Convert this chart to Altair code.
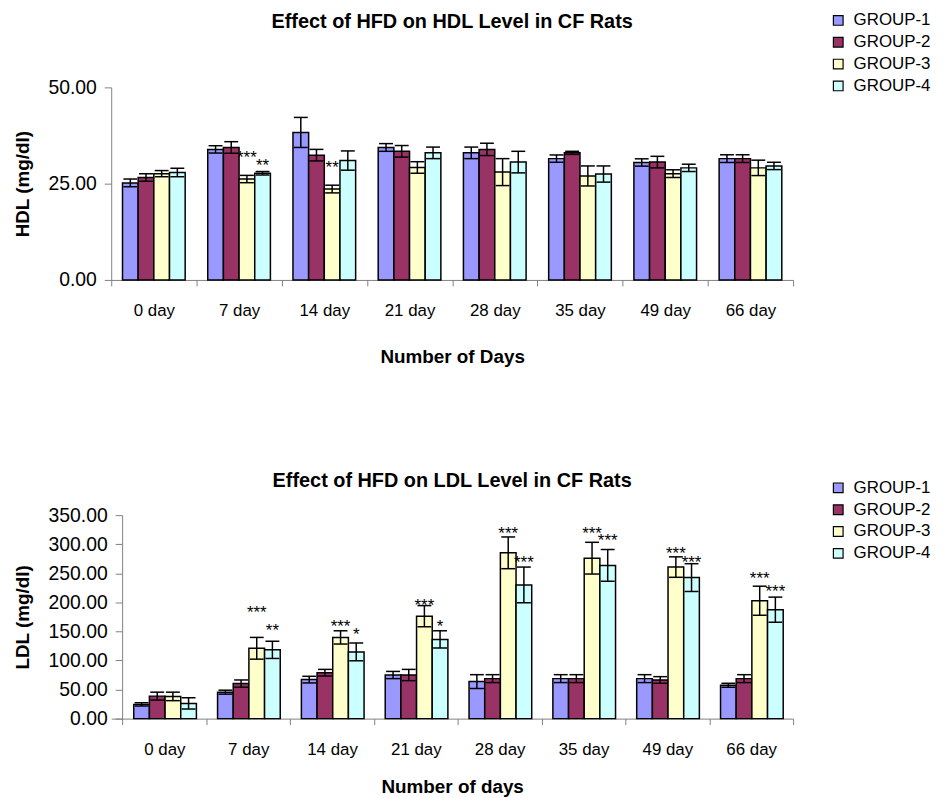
import altair as alt
import pandas as pd

days = ["0 day", "7 day", "14 day", "21 day", "28 day", "35 day", "49 day", "66 day"]
groups = ["GROUP-1", "GROUP-2", "GROUP-3", "GROUP-4"]
colors = ["#9999FF", "#993366", "#FFFFCC", "#CCFFFF"]

# HDL (mg/dl) means and SE
hdl_g1 = [25.2, 33.9, 38.3, 34.4, 33.0, 31.5, 30.5, 31.5]
hdl_g2 = [26.6, 34.4, 32.4, 33.4, 33.9, 33.0, 30.6, 31.5]
hdl_g3 = [27.6, 26.2, 23.6, 29.2, 28.0, 27.0, 27.6, 29.1]
hdl_g4 = [27.9, 27.7, 31.0, 33.0, 30.6, 27.5, 29.1, 29.6]
hdl_se1 = [1.0, 0.95, 3.9, 1.0, 1.5, 0.95, 0.95, 1.0]
hdl_se2 = [1.0, 1.5, 1.5, 1.5, 1.6, 0.4, 1.5, 1.0]
hdl_se3 = [0.8, 0.95, 1.0, 1.5, 3.5, 2.6, 1.0, 2.0]
hdl_se4 = [1.1, 0.45, 2.5, 1.5, 2.8, 2.1, 0.95, 0.95]

# LDL (mg/dl) means and SE
ldl_g1 = [24.5, 45.5, 67.1, 75.0, 63.7, 68.8, 68.8, 57.4]
ldl_g2 = [38.7, 60.3, 79.0, 75.0, 68.8, 68.8, 66.5, 68.8]
ldl_g3 = [38.2, 121.0, 139.7, 176.2, 285.2, 276.0, 260.7, 202.8]
ldl_g4 = [26.2, 118.3, 114.8, 136.3, 230.0, 263.6, 242.6, 187.4]
ldl_se1 = [2.8, 3.4, 5.7, 6.2, 11.9, 6.8, 6.8, 3.4]
ldl_se2 = [6.8, 6.2, 5.7, 9.7, 6.8, 6.8, 5.7, 6.8]
ldl_se3 = [7.3, 18.7, 11.4, 18.2, 27.3, 27.3, 17.6, 25.0]
ldl_se4 = [9.7, 14.8, 15.3, 14.8, 30.7, 27.3, 23.9, 21.6]

# significance marks: day, group, label, level (data units)
hdl_star_day = ["7 day", "7 day", "14 day"]
hdl_star_group = ["GROUP-3", "GROUP-4", "GROUP-3"]
hdl_star_label = ["***", "**", "**"]
hdl_star_level = [32.1, 30.0, 29.6]

ldl_star_day = ["7 day", "7 day", "14 day", "14 day", "21 day", "21 day",
                "28 day", "28 day", "35 day", "35 day", "49 day", "49 day",
                "66 day", "66 day"]
ldl_star_group = ["GROUP-3", "GROUP-4"] * 7
ldl_star_label = ["***", "**", "***", "*", "***", "*", "***", "***",
                  "***", "***", "***", "***", "***", "***"]
ldl_star_level = [185.2, 154.6, 160.9, 147.2, 196.6, 160.9, 321.5, 271.6,
                  321.5, 309.1, 286.3, 271.6, 243.2, 221.5]

FONT = "Liberation Sans"


def make_df(means, ses):
    rows = []
    for g, m_list, s_list in zip(groups, means, ses):
        for d, m, s in zip(days, m_list, s_list):
            rows.append({"day": d, "group": g, "mean": m, "lo": m - s, "hi": m + s})
    return pd.DataFrame(rows)


def panel(df, sdf, title, title_offset, ytitle, ymax, ystep, xtitle, x_title_pad,
          width, height, legend_x, legend_y, x_pad_outer, y_offset):
    x = alt.X("day:N", sort=days,
              scale=alt.Scale(domain=days, paddingInner=0, paddingOuter=x_pad_outer,
                              align=1),
              axis=alt.Axis(title=xtitle, labelAngle=0, tickBand="extent",
                            tickSize=6, labelPadding=17, titlePadding=x_title_pad,
                            domainColor="#808080", tickColor="#808080",
                            labelFontSize=17, titleFontSize=19, titleFontWeight="bold",
                            labelFont=FONT, titleFont=FONT, labelColor="black",
                            titleColor="black"))
    xo = alt.XOffset("group:N", sort=groups,
                     scale=alt.Scale(domain=groups, paddingOuter=0.72, paddingInner=0))
    yscale = alt.Scale(domain=[0, ymax], nice=False)
    yaxis = alt.Axis(title=ytitle, values=list(range(0, ymax + 1, ystep)), format=".2f",
                     grid=False, tickSize=7, labelPadding=8, titlePadding=16,
                     offset=y_offset, labelOverlap=False,
                     domainColor="#808080", tickColor="#808080",
                     labelFontSize=19.5, titleFontSize=19, titleFontWeight="bold",
                     labelFont=FONT, titleFont=FONT, labelColor="black", titleColor="black")
    color = alt.Color("group:N", sort=groups,
                      scale=alt.Scale(domain=groups, range=colors),
                      legend=alt.Legend(title=None, orient="none", legendX=legend_x,
                                        legendY=legend_y, symbolType="square",
                                        symbolSize=95, symbolStrokeColor="black",
                                        symbolStrokeWidth=1.2, labelFontSize=17,
                                        labelFont=FONT, labelColor="black",
                                        rowPadding=4, labelOffset=7, padding=0))
    base = alt.Chart(df)
    bars = base.mark_bar(stroke="black", strokeWidth=1.5).encode(
        x=x, xOffset=xo, y=alt.Y("mean:Q", scale=yscale, axis=yaxis), color=color)
    rules = base.mark_rule(color="black", strokeWidth=1.5).encode(
        x=x, xOffset=xo, y=alt.Y("lo:Q", scale=yscale, axis=yaxis), y2="hi:Q")
    cap_lo = base.mark_tick(color="black", thickness=1.5, size=14, opacity=1).encode(
        x=x, xOffset=xo, y=alt.Y("lo:Q", scale=yscale, axis=yaxis))
    cap_hi = base.mark_tick(color="black", thickness=1.5, size=14, opacity=1).encode(
        x=x, xOffset=xo, y=alt.Y("hi:Q", scale=yscale, axis=yaxis))
    stars = alt.Chart(sdf).mark_text(fontSize=17, font=FONT, baseline="alphabetic",
                                     dy=7, color="black").encode(
        x=x, xOffset=xo, y=alt.Y("level:Q", scale=yscale, axis=yaxis), text="label:N")
    return alt.layer(bars, rules, cap_lo, cap_hi, stars).properties(
        width=width, height=height,
        title=alt.TitleParams(title, font=FONT, fontSize=20, fontWeight="bold",
                              color="black", anchor="middle", frame="group",
                              offset=title_offset))


hdl_df = make_df([hdl_g1, hdl_g2, hdl_g3, hdl_g4], [hdl_se1, hdl_se2, hdl_se3, hdl_se4])
ldl_df = make_df([ldl_g1, ldl_g2, ldl_g3, ldl_g4], [ldl_se1, ldl_se2, ldl_se3, ldl_se4])
hdl_stars = pd.DataFrame({"day": hdl_star_day, "group": hdl_star_group,
                          "label": hdl_star_label, "level": hdl_star_level})
ldl_stars = pd.DataFrame({"day": ldl_star_day, "group": ldl_star_group,
                          "label": ldl_star_label, "level": ldl_star_level})

top = panel(hdl_df, hdl_stars, "Effect of HFD on HDL Level in CF Rats", -20,
            "HDL (mg/dl)", 50, 25, "Number of Days", 29, 687, 194, 724, -76, 0, 0)
bottom = panel(ldl_df, ldl_stars, "Effect of HFD on LDL Level in CF Rats", -12,
               "LDL (mg/dl)", 350, 50, "Number of days", 20, 687, 205, 724, -36,
               0.067, -11)

chart = alt.vconcat(top, bottom, spacing=106).resolve_scale(
    color="independent").resolve_legend(color="independent").properties(
    padding={"left": 5, "top": 1, "right": 5, "bottom": 0},
    background="white"
).configure_view(stroke="transparent", strokeWidth=0).configure_axis(labelOverlap=False)

chart.save("out.html", embed_options={"renderer": "svg", "actions": False})
